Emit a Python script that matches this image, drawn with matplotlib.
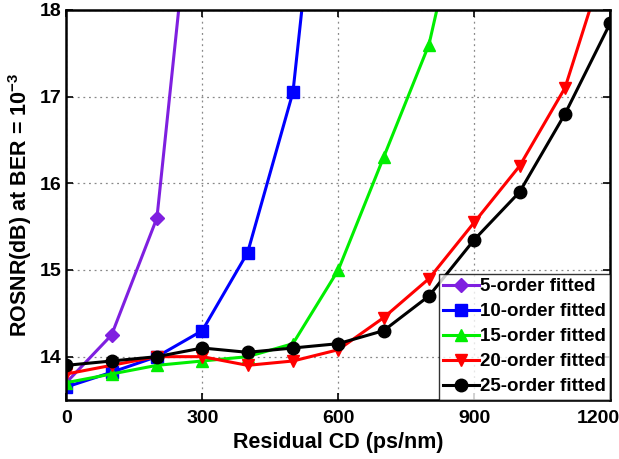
import matplotlib
matplotlib.use("Agg")
import matplotlib.pyplot as plt
import matplotlib.transforms as mtransforms

plt.rcParams['font.family'] = ['Liberation Sans', 'DejaVu Sans']
plt.rcParams['font.weight'] = 'bold'
plt.rcParams['mathtext.default'] = 'regular'

# residual CD (ps/nm)
cd = [0, 100, 200, 300, 400, 500, 600, 700, 800, 900, 1000, 1100, 1200]

# ROSNR (dB) at BER = 1e-3 for each fitting order
order5 = [13.7, 14.25, 15.6, 20.6]
order10 = [13.65, 13.82, 14.0, 14.3, 15.2, 17.05, 21.9]
order15 = [13.7, 13.8, 13.9, 13.95, 14.0, 14.15, 15.0, 16.3, 17.6, 19.9]
order20 = [13.8, 13.9, 14.0, 14.0, 13.9, 13.95, 14.08, 14.45, 14.9, 15.55, 16.2, 17.1, 18.75]
order25 = [13.9, 13.95, 14.0, 14.1, 14.05, 14.1, 14.15, 14.3, 14.7, 15.35, 15.9, 16.8, 17.85]

series = [
    (order5, "5-order fitted", "#7f1fe0", "D"),
    (order10, "10-order fitted", "#0000ff", "s"),
    (order15, "15-order fitted", "#00ee00", "^"),
    (order20, "20-order fitted", "#ff0000", "v"),
    (order25, "25-order fitted", "#000000", "o"),
]

fig = plt.figure(figsize=(6.19, 4.59), dpi=100)
ax = fig.add_axes([0.107, 0.1285, 0.879, 0.85])

for vals, label, color, marker in series:
    ms = 7.5 if marker == "D" else 9
    ax.plot(cd[:len(vals)], vals, color=color, marker=marker, markersize=ms,
            linewidth=2.2, label=label)

ax.set_xlim(0, 1200)
ax.set_ylim(13.5, 18)
ax.set_xticks([0, 300, 600, 900, 1200])
ax.set_yticks([14, 15, 16, 17, 18])
ax.tick_params(labelsize=14, direction='in', length=5, width=1.2, top=True, right=True)
ax.tick_params(axis='x', pad=7)
ax.grid(True, linestyle=(0, (1.5, 3)), color='#888888', linewidth=0.9)
for s in ax.spines.values():
    s.set_linewidth(1.8)

# the last x tick label sits pulled in from the figure edge
last = ax.get_xticklabels()[-1]
last.set_transform(last.get_transform() +
                   mtransforms.ScaledTranslation(-12 / 100, 0, fig.dpi_scale_trans))

ax.set_xlabel("Residual CD (ps/nm)", fontsize=15.5, fontweight='bold', labelpad=4)
ax.set_ylabel("ROSNR(dB) at BER = 10$^{-3}$", fontsize=15.5, fontweight='bold', labelpad=4)

leg = ax.legend(loc='lower right', frameon=True, fancybox=False,
                edgecolor='black', handlelength=1.9, handletextpad=0.05,
                borderpad=0.25, labelspacing=0.42, borderaxespad=0.0,
                prop={'weight': 'bold', 'size': 13.5})
leg.get_frame().set_linewidth(1.0)

fig.savefig("out.png", dpi=100)
